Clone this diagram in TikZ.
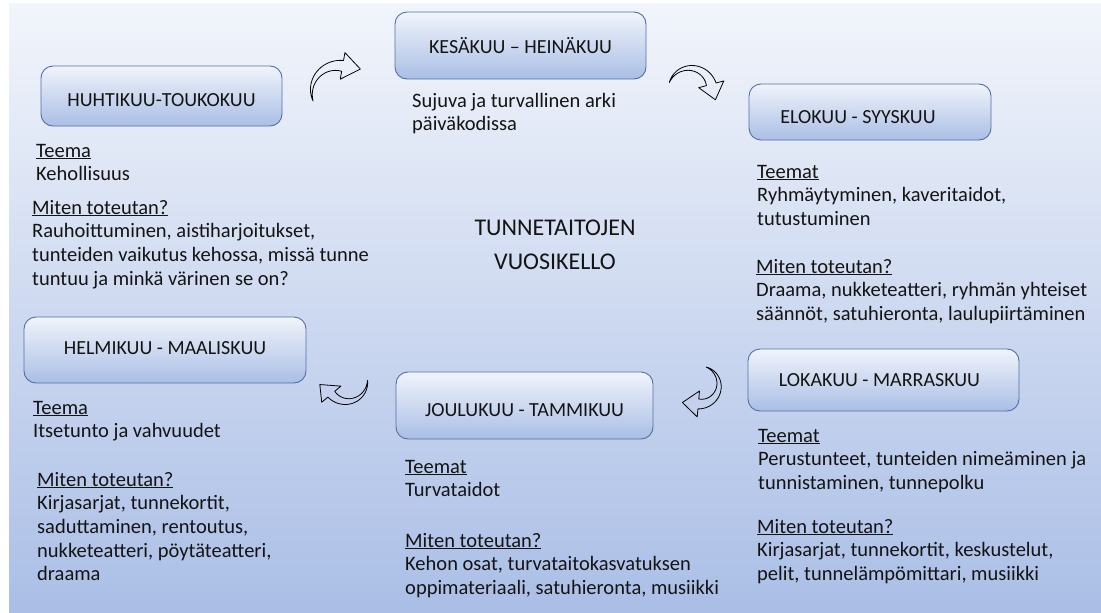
\documentclass[tikz,border=0pt]{standalone}
\usepackage{fontspec}
\setmainfont{Carlito}
\usetikzlibrary{calc}
\definecolor{taustaYla}{RGB}{242,245,251}
\definecolor{taustaAla}{RGB}{170,190,230}
\definecolor{laatikkoYla}{RGB}{240,244,251}
\definecolor{laatikkoAla}{RGB}{170,190,229}
\definecolor{reuna}{RGB}{84,112,163}
\definecolor{teksti}{RGB}{20,20,20}
\tikzset{
  kuukausi/.style={draw=reuna, line width=0.9pt, rounded corners=12pt,
    top color=laatikkoYla, bottom color=laatikkoAla, text=teksti,
    font=\fontsize{20}{24}\selectfont, text height=17pt, text depth=0pt, inner sep=0pt},
  kuvaus/.style={anchor=base west, align=left, inner sep=0pt, text=teksti,
    font=\fontsize{20.5}{23.7}\selectfont},
  nuoli/.style={draw=black, line width=0.8pt, line join=round},
}
\newcommand{\otsake}[1]{\underline{#1}}
% curved block arrow: cx, cy, R, width, tail angle, head angle, head length, head turn
\newcommand{\kaarinuoli}[8]{%
  \pgfmathsetmacro\nuoliM{#3-#4/2}
  \pgfmathsetmacro\nuoliP{#4/2}
  \pgfmathsetmacro\nuoliS{sign(#6-#5)}
  \pgfmathsetmacro\nuoliF{#6+\nuoliS*90+#8}
  \draw[nuoli] plot[domain=0:1, samples=30, smooth]
      ({#1+(\nuoliM+\nuoliP*\x)*cos(#5+\x*(#6-#5))}, {#2+(\nuoliM+\nuoliP*\x)*sin(#5+\x*(#6-#5))})
    -- ({#1+(#3+8)*cos(#6)}, {#2+(#3+8)*sin(#6)})
    -- ({#1+\nuoliM*cos(#6)+#7*cos(\nuoliF)}, {#2+\nuoliM*sin(#6)+#7*sin(\nuoliF)})
    -- ({#1+(#3-#4-8)*cos(#6)}, {#2+(#3-#4-8)*sin(#6)})
    -- plot[domain=0:1, samples=30, smooth]
      ({#1+(\nuoliM-\nuoliP*(1-\x))*cos(#6-\x*(#6-#5))}, {#2+(\nuoliM-\nuoliP*(1-\x))*sin(#6-\x*(#6-#5))})
    -- cycle;}
\begin{document}
\begin{tikzpicture}[x=1pt, y=-1pt]
  \useasboundingbox (0,0) rectangle (1101,613);
  %background
  \fill[white] (0,0) rectangle (1101,613);
  \shade[top color=taustaYla, bottom color=taustaAla] (9,3) rectangle (1101,613);
  %months
  \node[kuukausi, minimum width=241pt, minimum height=60pt, text height=21pt] (huhti) at (161.5,96) {HUHTIKUU-TOUKOKUU};
  \node[kuukausi, minimum width=251pt, minimum height=67pt, text height=16pt] (kesa) at (520.5,45.5) {KESÄKUU – HEINÄKUU};
  \node[kuukausi, minimum width=242pt, minimum height=56pt, text height=23pt] (elo) at (870,112) {\hspace*{-24pt}ELOKUU - SYYSKUU};
  \node[kuukausi, minimum width=282pt, minimum height=66pt, text height=9pt] (helmi) at (165,350) {HELMIKUU - MAALISKUU};
  \node[kuukausi, minimum width=257pt, minimum height=67pt, text height=22pt] (joulu) at (524.5,405.5) {JOULUKUU - TAMMIKUU};
  \node[kuukausi, minimum width=271pt, minimum height=62pt, text height=13pt] (loka) at (883.5,380) {\hspace*{-8pt}LOKAKUU - MARRASKUU};
  %title
  \node[align=center, text=teksti, font=\fontsize{24}{34}\selectfont] (otsikko) at (555,245) {TUNNETAITOJEN\\VUOSIKELLO};
  %texts (placed at the baseline of the last line)
  \node[kuvaus] (huhtiteema) at (36,180.7) {\otsake{Teema}\\Kehollisuus};
  \node[kuvaus] (huhtikeinot) at (32,285.1) {\otsake{Miten toteutan?}\\Rauhoittuminen, aistiharjoitukset,\\tunteiden vaikutus kehossa, missä tunne\\tuntuu ja minkä värinen se on?};
  \node[kuvaus] (kesateksti) at (412,130.7) {Sujuva ja turvallinen arki\\päiväkodissa};
  \node[kuvaus] (eloteema) at (757,225.4) {\otsake{Teemat}\\Ryhmäytyminen, kaveritaidot,\\tutustuminen};
  \node[kuvaus] (elokeinot) at (756,320.4) {\otsake{Miten toteutan?}\\Draama, nukketeatteri, ryhmän yhteiset\\säännöt, satuhieronta, laulupiirtäminen};
  \node[kuvaus] (helmiteema) at (33,437.7) {\otsake{Teema}\\Itsetunto ja vahvuudet};
  \node[kuvaus] (helmikeinot) at (37,580.8) {\otsake{Miten toteutan?}\\Kirjasarjat, tunnekortit,\\saduttaminen, rentoutus,\\nukketeatteri, pöytäteatteri,\\draama};
  \node[kuvaus] (jouluteema) at (405,496.7) {\otsake{Teemat}\\Turvataidot};
  \node[kuvaus] (joulukeinot) at (405,594.4) {\otsake{Miten toteutan?}\\Kehon osat, turvataitokasvatuksen\\oppimateriaali, satuhieronta, musiikki};
  \node[kuvaus] (lokateema) at (758,489.4) {\otsake{Teemat}\\Perustunteet, tunteiden nimeäminen ja\\tunnistaminen, tunnepolku};
  \node[kuvaus] (lokakeinot) at (757,580.4) {\otsake{Miten toteutan?}\\Kirjasarjat, tunnekortit, keskustelut,\\pelit, tunnelämpömittari, musiikki};
  %arrows
  \kaarinuoli{338}{92}{32}{11}{160}{280}{18}{0}
  \kaarinuoli{690}{90}{27}{10}{200}{345}{16}{0}
  \kaarinuoli{700}{385}{24}{10}{289}{455}{16}{0}
  \kaarinuoli{347}{381}{25}{9}{358}{500}{15}{-10}
\end{tikzpicture}
\end{document}
